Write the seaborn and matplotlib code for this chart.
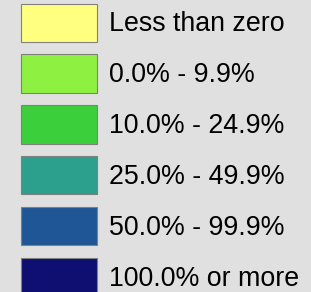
import matplotlib
matplotlib.use("Agg")
import matplotlib.pyplot as plt
import seaborn as sns
from matplotlib.patches import Patch

# Legend classes and their fill colours
labels = ["Less than zero", "0.0% - 9.9%", "10.0% - 24.9%",
          "25.0% - 49.9%", "50.0% - 99.9%", "100.0% or more"]
colors = ["#ffff80", "#8ef040", "#3ccf3c", "#2ca08c", "#1f5696", "#0f0f72"]

sns.set_theme(style="white", rc={"figure.facecolor": "#e0e0e0", "axes.facecolor": "#e0e0e0"})
plt.rcParams['font.family'] = ['Liberation Sans', 'DejaVu Sans']

fig = plt.figure(figsize=(3.11, 2.92), dpi=100)
ax = fig.add_axes([0, 0, 1, 1])
ax.set_axis_off()

handles = [Patch(facecolor=c, edgecolor="#808080", linewidth=0.8, label=l)
           for c, l in zip(colors, labels)]
ax.legend(handles=handles, loc="upper left", bbox_to_anchor=(21 / 311, 1 - 3.5 / 292),
          frameon=False, fontsize=19.3, borderpad=0, borderaxespad=0,
          handlelength=2.85, handleheight=1.82, labelspacing=0.47,
          handletextpad=0.42, labelcolor="black")

fig.savefig("out.png", dpi=100, facecolor=fig.get_facecolor())
